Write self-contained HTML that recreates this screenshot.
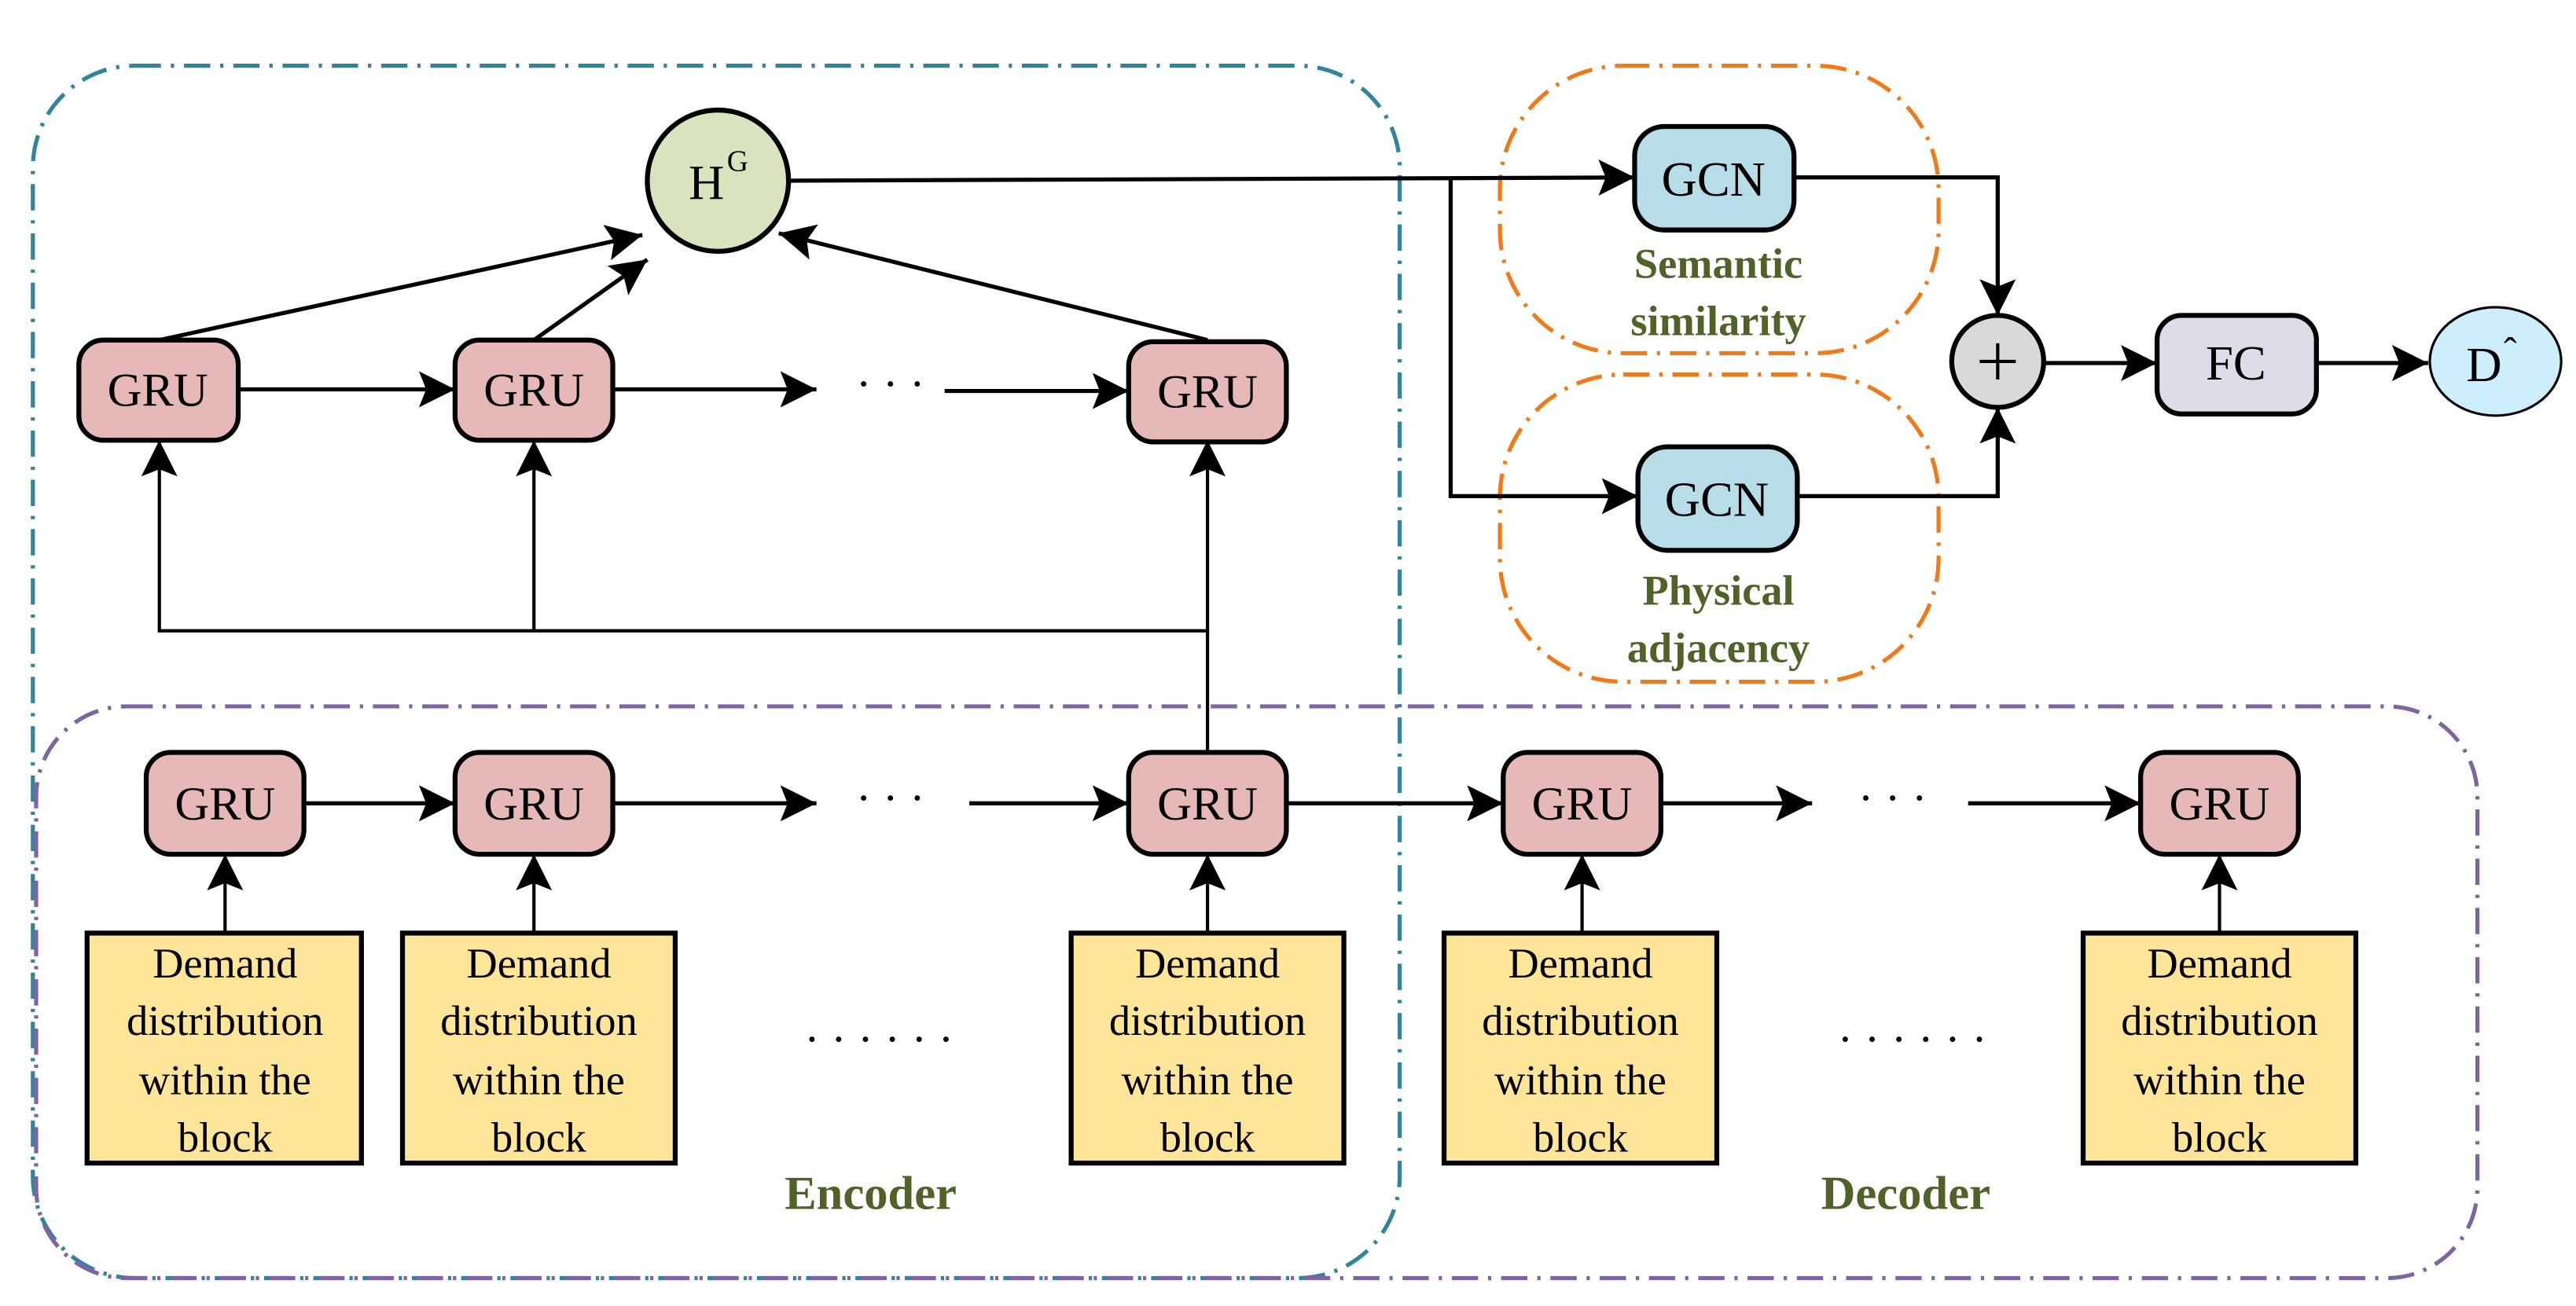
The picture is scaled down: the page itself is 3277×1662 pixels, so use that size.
<!DOCTYPE html>
<html><head><meta charset="utf-8"><style>
html,body{margin:0;padding:0;background:#fff;}
svg{display:block;}
svg text{font-family:"Liberation Serif","DejaVu Serif",serif;}
</style></head><body>
<svg width="3277" height="1662" viewBox="0 0 1568 795" preserveAspectRatio="none" xmlns="http://www.w3.org/2000/svg" font-family="'Liberation Serif', 'DejaVu Serif', serif">
<defs>
<marker id="b" viewBox="0 0 10 10" refX="10" refY="5" markerWidth="22" markerHeight="22" markerUnits="userSpaceOnUse" orient="auto"><path d="M0,0 L10,5 L0,10 L2,5 z" fill="#000"/></marker>
</defs>
<rect x="20" y="40" width="832" height="738" rx="62" fill="none" stroke="#31849b" stroke-width="2.5" stroke-dasharray="16,6,2,6"/>
<rect x="22" y="430" width="1486" height="348" rx="55" fill="none" stroke="#8064a2" stroke-width="2.5" stroke-dasharray="16,6,2,6"/>
<rect x="913" y="40" width="267" height="175" rx="75" fill="none" stroke="#f07a1a" stroke-width="2.5" stroke-dasharray="16,6,2,6"/>
<rect x="913" y="228" width="267" height="187" rx="75" fill="none" stroke="#f07a1a" stroke-width="2.5" stroke-dasharray="16,6,2,6"/>

<g stroke="#000" stroke-width="2.5" fill="none">
<line x1="97" y1="207" x2="391" y2="143" marker-end="url(#b)"/>
<line x1="325" y1="207" x2="394" y2="158" marker-end="url(#b)"/>
<line x1="735" y1="207" x2="474" y2="142" marker-end="url(#b)"/>
<line x1="145" y1="237" x2="277" y2="237" marker-end="url(#b)"/>
<line x1="373" y1="237" x2="497" y2="237" marker-end="url(#b)"/>
<line x1="575" y1="238" x2="687" y2="238" marker-end="url(#b)"/>
<polyline points="735,458 735,384 97,384 97,268" stroke-width="2" marker-end="url(#b)"/>
<line x1="325" y1="384" x2="325" y2="268" stroke-width="2" marker-end="url(#b)"/>
<line x1="735" y1="384" x2="735" y2="268" stroke-width="2" marker-end="url(#b)"/>
<line x1="480" y1="110" x2="995" y2="108" marker-end="url(#b)"/>
<polyline points="883,109 883,302 997,302" marker-end="url(#b)"/>
<polyline points="1092,108 1216,108 1216,192" marker-end="url(#b)"/>
<polyline points="1094,302 1216,302 1216,248" marker-end="url(#b)"/>
<line x1="1244" y1="221" x2="1313" y2="221" marker-end="url(#b)"/>
<line x1="1410" y1="221" x2="1478" y2="221" marker-end="url(#b)"/>
<line x1="185" y1="489" x2="277" y2="489" marker-end="url(#b)"/>
<line x1="373" y1="489" x2="497" y2="489" marker-end="url(#b)"/>
<line x1="590" y1="489" x2="687" y2="489" marker-end="url(#b)"/>
<line x1="783" y1="489" x2="915" y2="489" marker-end="url(#b)"/>
<line x1="1011" y1="489" x2="1103" y2="489" marker-end="url(#b)"/>
<line x1="1198" y1="489" x2="1303" y2="489" marker-end="url(#b)"/>
<g stroke-width="2">
<line x1="137" y1="568" x2="137" y2="520" marker-end="url(#b)"/>
<line x1="325" y1="568" x2="325" y2="520" marker-end="url(#b)"/>
<line x1="735" y1="568" x2="735" y2="520" marker-end="url(#b)"/>
<line x1="963" y1="568" x2="963" y2="520" marker-end="url(#b)"/>
<line x1="1351" y1="568" x2="1351" y2="520" marker-end="url(#b)"/>
</g>
</g>

<circle cx="437" cy="110" r="43" fill="#d7e4bd" stroke="#000" stroke-width="3"/>
<text x="430" y="121" font-size="30" text-anchor="middle">H</text>
<text x="449" y="104" font-size="18" text-anchor="middle">G</text>

<g stroke="#000" stroke-width="3" fill="#e6b9b8">
<rect x="48" y="207" width="97" height="61" rx="15"/>
<rect x="277" y="207" width="96" height="61" rx="15"/>
<rect x="687" y="208" width="96" height="61" rx="15"/>
<rect x="89" y="458" width="96" height="62" rx="15"/>
<rect x="277" y="458" width="96" height="62" rx="15"/>
<rect x="687" y="458" width="96" height="62" rx="15"/>
<rect x="915" y="458" width="96" height="62" rx="15"/>
<rect x="1303" y="458" width="96" height="62" rx="15"/>
</g>
<g font-size="29" text-anchor="middle">
<text x="96" y="247">GRU</text>
<text x="325" y="247">GRU</text>
<text x="735" y="248">GRU</text>
<text x="137" y="499">GRU</text>
<text x="325" y="499">GRU</text>
<text x="735" y="499">GRU</text>
<text x="963" y="499">GRU</text>
<text x="1351" y="499">GRU</text>
</g>
<g font-size="28" text-anchor="middle">
<text x="542" y="243">· · ·</text>
<text x="542" y="495">· · ·</text>
<text x="1152" y="495">· · ·</text>
</g>

<rect x="995" y="77" width="97" height="63" rx="18" fill="#b7dee8" stroke="#000" stroke-width="3"/>
<rect x="997" y="272" width="97" height="63" rx="18" fill="#b7dee8" stroke="#000" stroke-width="3"/>
<text x="1043" y="119" font-size="30" text-anchor="middle">GCN</text>
<text x="1045" y="314" font-size="30" text-anchor="middle">GCN</text>
<g font-size="26" font-weight="bold" fill="#4f6228" text-anchor="middle">
<text x="1046" y="169">Semantic</text>
<text x="1046" y="204">similarity</text>
<text x="1046" y="368">Physical</text>
<text x="1046" y="403">adjacency</text>
<text x="530" y="736" font-size="29">Encoder</text>
<text x="1160" y="736" font-size="29">Decoder</text>
</g>

<circle cx="1216" cy="220" r="28" fill="#d9d9d9" stroke="#000" stroke-width="3"/>
<line x1="1205" y1="220" x2="1227" y2="220" stroke="#000" stroke-width="2"/>
<line x1="1216" y1="209" x2="1216" y2="231" stroke="#000" stroke-width="2"/>
<rect x="1313" y="192" width="97" height="60" rx="15" fill="#e0dbe9" stroke="#000" stroke-width="3"/>
<text x="1361" y="231" font-size="30" text-anchor="middle">FC</text>
<ellipse cx="1519" cy="220" rx="40" ry="33" fill="#cdeefc" stroke="#000" stroke-width="1.5"/>
<text x="1512" y="232" font-size="30" text-anchor="middle">D</text>
<text x="1528" y="222" font-size="24" text-anchor="middle">ˆ</text>

<g stroke="#000" stroke-width="3" fill="#fee599">
<rect x="53" y="568" width="167" height="140"/>
<rect x="245" y="568" width="166" height="140"/>
<rect x="652" y="568" width="166" height="140"/>
<rect x="879" y="568" width="166" height="140"/>
<rect x="1268" y="568" width="166" height="140"/>
</g>
<g font-size="26" text-anchor="middle">
<g transform="translate(137,0)"><text y="595">Demand</text><text y="630">distribution</text><text y="666">within the</text><text y="701">block</text></g>
<g transform="translate(328,0)"><text y="595">Demand</text><text y="630">distribution</text><text y="666">within the</text><text y="701">block</text></g>
<g transform="translate(735,0)"><text y="595">Demand</text><text y="630">distribution</text><text y="666">within the</text><text y="701">block</text></g>
<g transform="translate(962,0)"><text y="595">Demand</text><text y="630">distribution</text><text y="666">within the</text><text y="701">block</text></g>
<g transform="translate(1351,0)"><text y="595">Demand</text><text y="630">distribution</text><text y="666">within the</text><text y="701">block</text></g>
<text x="535" y="642" font-size="28">· · · · · ·</text>
<text x="1164" y="642" font-size="28">· · · · · ·</text>
</g>
</svg>
</body></html>
